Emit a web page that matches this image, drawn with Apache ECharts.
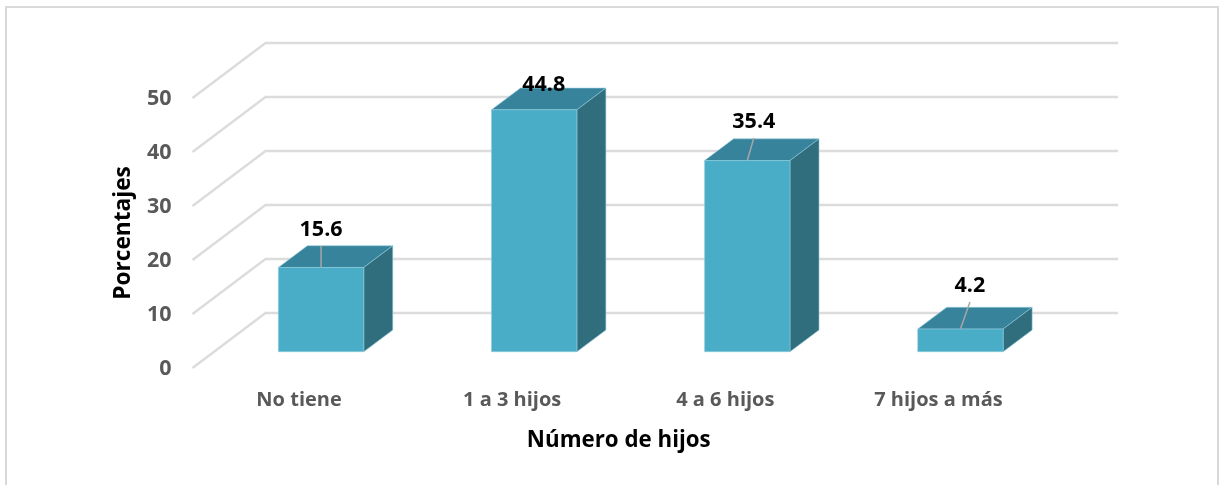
<!DOCTYPE html>
<html>
<head>
<meta charset="utf-8">
<title>Número de hijos</title>
<script src="https://cdn.jsdelivr.net/npm/echarts@6/dist/echarts.min.js"></script>
<style>
  html, body { margin: 0; padding: 0; background: #fff; overflow: hidden; }
  #chart { position: absolute; left: 0; top: 0; width: 1219px; height: 485px; }
  .frame { position: absolute; left: 5px; top: 6px; width: 1210px; height: 490px; border: 2px solid #d9d9d9; }
</style>
</head>
<body>
<div class="frame"></div>
<div id="chart"></div>
<script>
  var categories = ['No tiene', '1 a 3 hijos', '4 a 6 hijos', '7 hijos a más'];
  var porcentajes = [15.6, 44.8, 35.4, 4.2];
  var yTicks = [0, 10, 20, 30, 40, 50];

  // profundidad del efecto 3D, en pixeles
  var WALL_DX = 73, WALL_DY = -55;
  var BAR_DX = 22, BAR_DY = -16.3;
  var DEPTH_DX = 29, DEPTH_DY = -21.7;
  var BAR_WIDTH = 85.4;
  // etiquetas movidas a mano en el original
  var labelShift = [[0, -38], [9.5, -25], [6.5, -39], [9.5, -43.5]];

  var FONT = '"Open Sans", sans-serif';

  function renderWall(params, api) {
    var cs = params.coordSys;
    var y = api.coord([0, api.value(1)])[1];
    return {
      type: 'polyline',
      shape: { points: [[cs.x, y], [cs.x + WALL_DX, y + WALL_DY], [cs.x + cs.width + WALL_DX, y + WALL_DY]] },
      style: { stroke: '#dcdcdc', lineWidth: 2.4, fill: null }
    };
  }

  function renderBar(params, api) {
    var top = api.coord([api.value(0), api.value(1)]);
    var base = api.coord([api.value(0), 0]);
    var l = top[0] + BAR_DX - BAR_WIDTH / 2, r = l + BAR_WIDTH;
    var t = top[1] + BAR_DY, b = base[1] + BAR_DY;
    var edge = { stroke: '#8fcbdc', lineWidth: 0.6 };
    var shift = labelShift[params.dataIndex];
    var cx = (l + r) / 2;
    var children = [
      { type: 'polygon', shape: { points: [[l, t], [l + DEPTH_DX, t + DEPTH_DY], [r + DEPTH_DX, t + DEPTH_DY], [r, t]] },
        style: Object.assign({ fill: '#37839b' }, edge) },
      { type: 'polygon', shape: { points: [[r, t], [r + DEPTH_DX, t + DEPTH_DY], [r + DEPTH_DX, b + DEPTH_DY], [r, b]] },
        style: Object.assign({ fill: '#306e7e' }, edge) },
      { type: 'rect', shape: { x: l, y: t, width: BAR_WIDTH, height: b - t },
        style: Object.assign({ fill: '#49adc8' }, edge) }
    ];
    // linea guia solo cuando la etiqueta queda lejos de la barra
    if (shift[1] < -30) {
      children.push({ type: 'line', shape: { x1: cx, y1: t, x2: cx + shift[0], y2: t + shift[1] + 16.5 },
        style: { stroke: '#a6a6a6', lineWidth: 1.5 } });
    }
    children.push({ type: 'text', style: {
      x: cx + shift[0], y: t + shift[1], text: String(api.value(1)),
      fill: '#000', font: 'bold 21.5px ' + FONT, align: 'center', verticalAlign: 'middle' } });
    return { type: 'group', children: children };
  }

  var chart = echarts.init(document.getElementById('chart'), null, { renderer: 'canvas' });
  chart.setOption({
    animation: false,
    grid: { left: 192.5, top: 98, width: 852.5, height: 270 },
    xAxis: {
      type: 'category',
      data: categories,
      axisLine: { show: false },
      axisTick: { show: false },
      axisLabel: { interval: 0, margin: 22, color: '#595959', fontFamily: FONT, fontWeight: 'bold', fontSize: 20 },
      name: 'Número de hijos',
      nameLocation: 'middle',
      nameGap: 62,
      nameTextStyle: { color: '#000', fontFamily: FONT, fontWeight: 'bold', fontSize: 22.3 }
    },
    yAxis: {
      type: 'value',
      min: 0,
      max: 50,
      interval: 10,
      axisLine: { show: false },
      axisTick: { show: false },
      splitLine: { show: false },
      axisLabel: { margin: 21, color: '#595959', fontFamily: FONT, fontWeight: 'bold', fontSize: 21.5, verticalAlign: 'top', padding: [-10, 0, 0, 0] },
      name: 'Porcentajes',
      nameLocation: 'middle',
      nameGap: 57,
      nameTextStyle: { color: '#000', fontFamily: FONT, fontWeight: 'bold', fontSize: 22.7 }
    },
    series: [
      {
        type: 'custom',
        silent: true,
        renderItem: renderWall,
        encode: { x: 0, y: 1 },
        data: yTicks.map(function (v) { return [0, v]; })
      },
      {
        type: 'custom',
        renderItem: renderBar,
        encode: { x: 0, y: 1 },
        data: porcentajes.map(function (v, i) { return [i, v]; })
      }
    ]
  });
</script>
</body>
</html>
